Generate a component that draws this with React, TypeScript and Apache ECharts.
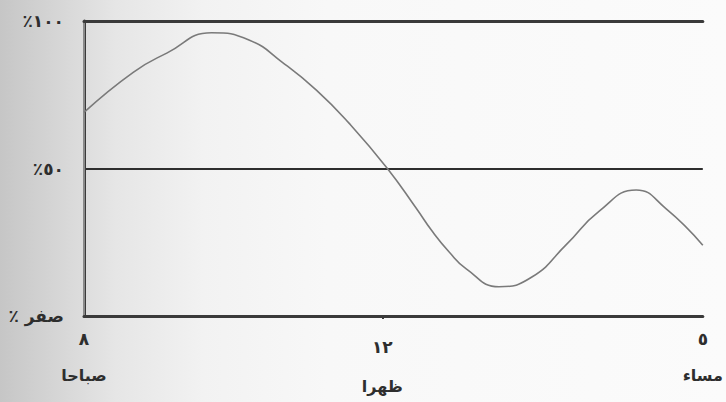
import React, { useEffect, useRef } from "react";
import * as echarts from "echarts";

// Clock hours of curve samples (8 = 8 AM, 17 = 5 PM)
const HOURS = [8.0, 8.66, 9.11, 9.71, 10.22, 10.66, 11.12, 11.56, 12.08, 12.53, 12.78, 13.04, 13.31, 13.82, 14.34, 14.87, 15.38, 15.96, 16.42, 17.0];
// Percentage values
const VALUES = [69, 82.6, 89.1, 96, 93.5, 86, 76.5, 65.2, 50, 36.5, 28.7, 21.8, 16, 9.9, 13.3, 24.2, 35.5, 42.7, 36.5, 24];

const X_TICK_HOURS = [8, 12, 17];
const X_TICK_LABELS = ["٨", "١٢", "٥"];
const X_PERIOD_LABELS = ["صباحا", "ظهرا", "مساء"];
const Y_TICKS = [0, 50, 100];
const Y_TICK_LABELS = ["٪ صفر", "٪٥٠", "٪١٠٠"];

// schematic time scale: noon sits at 48.2% of the axis width
const NOON_FRAC = 0.482;
const toAxis = (h: number) =>
  h <= 12 ? ((h - 8) / 4) * NOON_FRAC : NOON_FRAC + ((h - 12) / 5) * (1 - NOON_FRAC);

const FONT = "DejaVu Sans";

export default function App() {
  const ref = useRef<HTMLDivElement>(null);
  useEffect(() => {
    if (!ref.current) return;
    const chart = echarts.init(ref.current, undefined, { renderer: "svg" });
    const tickPos = X_TICK_HOURS.map(toAxis);
    const data = HOURS.map((h, i) => [toAxis(h), VALUES[i]]);
    chart.setOption({
      animation: false,
      backgroundColor: "transparent",
      grid: { left: 84, right: 22, top: 21, bottom: 86 },
      xAxis: [
        {
          type: "value",
          min: 0,
          max: 1,
          position: "bottom",
          axisLine: { show: true, onZero: false, lineStyle: { color: "#3a3a3a", width: 3 } },
          axisTick: {
            show: true,
            customValues: [tickPos[1]],
            length: 3,
            lineStyle: { color: "#3a3a3a", width: 2 },
          },
          splitLine: { show: false },
          axisLabel: {
            customValues: tickPos,
            margin: 10,
            fontFamily: FONT,
            formatter: (v: number) => {
              const i = tickPos.findIndex((p) => Math.abs(p - v) < 1e-6);
              if (i < 0) return "";
              if (i === 1) return `{n2|${X_TICK_LABELS[i]}}\n{t2|${X_PERIOD_LABELS[i]}}`;
              return `{n|${X_TICK_LABELS[i]}}\n{t|${X_PERIOD_LABELS[i]}}`;
            },
            rich: {
              n: { fontFamily: FONT, fontSize: 17, fontWeight: "bold", color: "#2e2e2e", lineHeight: 26 },
              t: { fontFamily: FONT, fontSize: 16, fontWeight: "bold", color: "#2e2e2e", lineHeight: 46 },
              n2: { fontFamily: FONT, fontSize: 17, fontWeight: "bold", color: "#2e2e2e", lineHeight: 42 },
              t2: { fontFamily: FONT, fontSize: 16, fontWeight: "bold", color: "#2e2e2e", lineHeight: 36 },
            },
          },
        },
        {
          type: "value",
          min: 0,
          max: 1,
          position: "top",
          axisLine: { show: true, onZero: false, lineStyle: { color: "#3a3a3a", width: 3 } },
          axisTick: { show: false },
          axisLabel: { show: false },
          splitLine: { show: false },
        },
      ],
      yAxis: [
        {
          type: "value",
          min: 0,
          max: 100,
          interval: 50,
          axisLine: { show: true, lineStyle: { color: "#3a3a3a", width: 3 } },
          axisTick: { show: false },
          splitLine: { show: true, lineStyle: { color: "#2e2e2e", width: 2 } },
          axisLabel: {
            margin: 20,
            fontFamily: FONT,
            fontSize: 17,
            fontWeight: "bold",
            color: "#2e2e2e",
            formatter: (v: number) => {
              const i = Y_TICKS.indexOf(v);
              return i >= 0 ? Y_TICK_LABELS[i] : "";
            },
          },
        },
        {
          type: "value",
          min: 0,
          max: 100,
          position: "right",
          axisLine: { show: true, lineStyle: { color: "#8a8a8a", width: 2 } },
          axisTick: { show: false },
          axisLabel: { show: false },
          splitLine: { show: false },
        },
      ],
      series: [
        {
          type: "line",
          data,
          smooth: 0.5,
          showSymbol: false,
          lineStyle: { color: "#7a7a7a", width: 1.6 },
        },
      ],
    });
    return () => chart.dispose();
  }, []);
  return (
    <div
      ref={ref}
      style={{
        position: "fixed",
        left: 0,
        top: 0,
        width: 726,
        height: 402,
        background:
          "linear-gradient(to right, #c6c6c6 0%, #d6d6d6 8%, #e6e6e6 16%, #f2f2f2 28%, #f8f8f8 45%, #fbfbfb 100%)",
      }}
    />
  );
}
